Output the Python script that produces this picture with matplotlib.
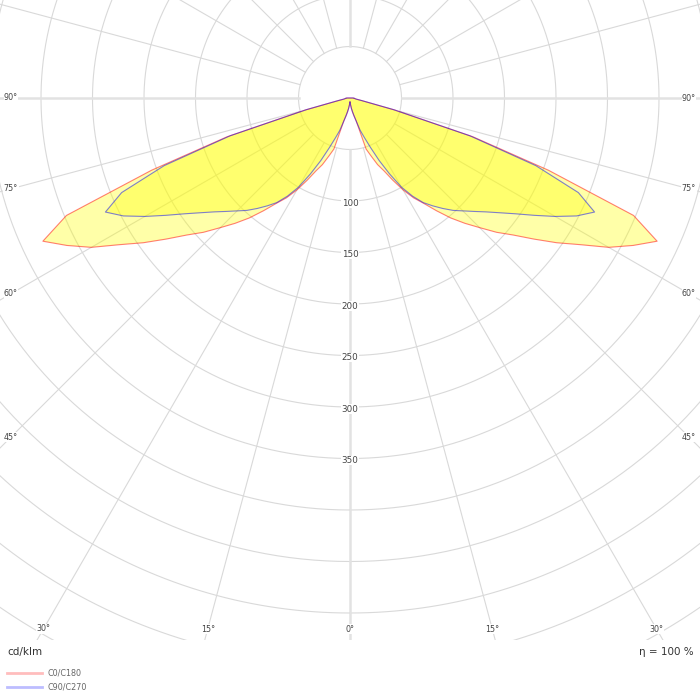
import numpy as np
import matplotlib
matplotlib.use('Agg')
import matplotlib.pyplot as plt

# Gamma angles (degrees from nadir) and intensities in cd/klm
gamma = np.arange(0, 92.5, 2.5)
c0_c180 = [4, 5, 7, 10, 14, 18, 23, 52, 60, 70, 78, 90, 103, 115, 125, 138, 152,
           165, 178, 193, 207, 225, 245, 265, 290, 310, 329, 298, 205, 125, 45, 12,
           6, 5, 4, 4, 3]
c90_c270 = [4, 5, 7, 10, 13, 17, 23, 33, 41, 52, 67, 83, 100, 113, 124, 132, 140,
            148, 155, 163, 172, 183, 196, 212, 230, 248, 262, 240, 192, 122, 44, 12,
            6, 5, 4, 4, 3]
series_names = ['C0/C180', 'C90/C270']
ring_labels = [100, 150, 200, 250, 300, 350]
side_angles = [90, 75, 60, 45]
bottom_angles = [30, 15, 0]

scale = 1.03          # pixels per cd/klm
R = 700               # polar axes radius in pixels
rmax = R / scale

fig = plt.figure(figsize=(7, 7), dpi=100)
# centre of the diagram at (350, 98) px from top-left
cx, cy = 350, 700 - 98
ax = fig.add_axes([(cx - R) / 700, (cy - R) / 700, 2 * R / 700, 2 * R / 700],
                  projection='polar')
ax.set_theta_zero_location('S')
ax.set_theta_direction(1)
ax.set_rlim(0, rmax)
ax.grid(False)
ax.set_xticks([])
ax.set_yticks([])
ax.spines['polar'].set_visible(False)

# grid
full = np.linspace(0, 2 * np.pi, 721)
for r in range(50, 700, 50):
    ax.plot(full, np.full_like(full, r), color='#d9d9d9', lw=0.8, zorder=1)
for a in range(0, 360, 15):
    major = a % 90 == 0
    ax.plot([np.radians(a)] * 2, [50, rmax], color='#e2e2e2' if major else '#d9d9d9',
            lw=1.8 if major else 0.8, zorder=1)

# curves: right half = C0 / C90, left half mirrored
g = np.radians(gamma)
styles = [('#ff0000', c0_c180), ('#0000ff', c90_c270)]
for col, vals in styles:
    vals = np.array(vals, dtype=float)
    th = np.concatenate([g, -g[::-1]])
    rr = np.concatenate([vals, vals[::-1]])
    ax.fill(th, rr, color='#ffff00', alpha=0.34, lw=0, zorder=2)
for col, vals in styles:
    vals = np.array(vals, dtype=float)
    th = np.concatenate([g, -g[::-1]])
    rr = np.concatenate([vals, vals[::-1]])
    ax.plot(th, rr, color=col, alpha=0.5, lw=0.8, zorder=3)

# ring labels
for v in ring_labels:
    ax.text(0, v + 2, str(v), ha='center', va='center', fontsize=6.3, color='#444444',
            zorder=4, bbox=dict(facecolor='white', edgecolor='none', pad=0.3))

# angle labels
for a in side_angles:
    rr = 339 / np.sin(np.radians(a)) / scale
    for s in (1, -1):
        ax.text(s * np.radians(a), rr, f'{a}°', ha='center', va='center', fontsize=5.8,
                color='#444444', zorder=4,
                bbox=dict(facecolor='white', edgecolor='none', pad=0.3))
for a in bottom_angles:
    rr = 531 / np.cos(np.radians(a)) / scale
    for s in (1, -1):
        ax.text(s * np.radians(a), rr, f'{a}°', ha='center', va='center', fontsize=5.8,
                color='#444444', zorder=4,
                bbox=dict(facecolor='white', edgecolor='none', pad=0.3))

# footer area (covers the bottom of the diagram)
foot = fig.add_axes([0, 0, 1, 60 / 700])
foot.set_xlim(0, 700)
foot.set_ylim(700, 640)
foot.set_facecolor('white')
foot.set_xticks([])
foot.set_yticks([])
for sp in foot.spines.values():
    sp.set_visible(False)
foot.text(7, 652, 'cd/klm', ha='left', va='center', fontsize=7.5, color='#333333')
foot.text(694, 652, 'η = 100 %', ha='right', va='center', fontsize=7.5, color='#333333')
leg_cols = ['#ffbdbd', '#bdbdff']
for i, (name, col) in enumerate(zip(series_names, leg_cols)):
    y = 673 + 14 * i
    foot.plot([7, 42], [y, y], color=col, lw=2)
    foot.text(48, y, name, ha='left', va='center', fontsize=5.8, color='#666666')

fig.savefig('out.png', dpi=100)
